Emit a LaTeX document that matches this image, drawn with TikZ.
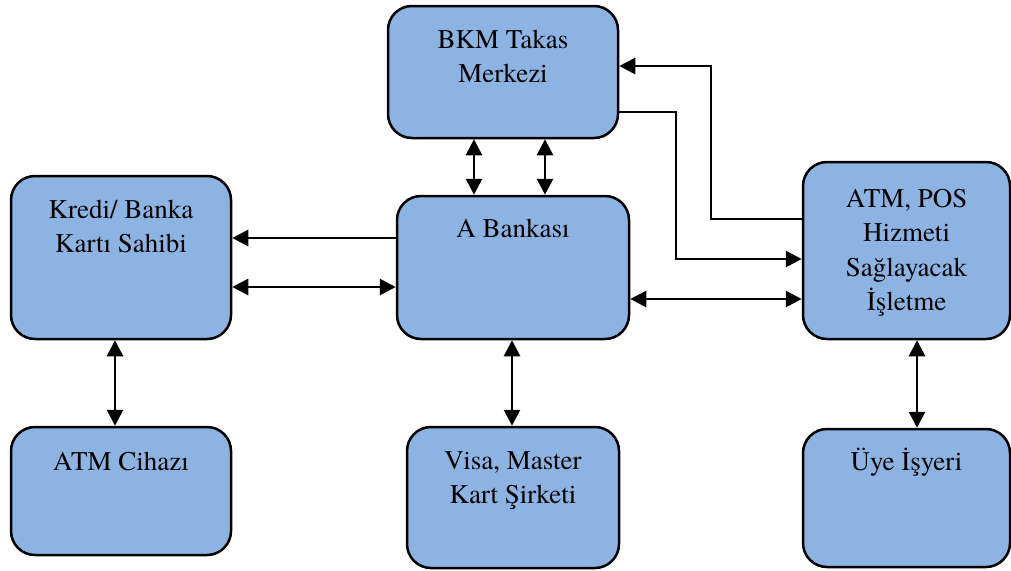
\documentclass[tikz,border=0pt]{standalone}
\usepackage{fontspec}
\setmainfont{texgyretermes-regular.otf}
\usetikzlibrary{arrows.meta}
\definecolor{boxblue}{RGB}{141,179,226}
\begin{document}
\begin{tikzpicture}[x=1pt,y=-1pt,
  box/.style={draw=black, line width=2.5pt, fill=boxblue, rounded corners=24pt, inner sep=0pt},
  lbl/.style={anchor=north, inner sep=0pt, align=center, font=\fontsize{27}{34.5}\selectfont},
  conn/.style={line width=2.8pt, -{Triangle[length=16pt,width=16pt]}},
  dconn/.style={line width=2.8pt, {Triangle[length=16pt,width=16pt]}-{Triangle[length=16pt,width=16pt]}}]
\useasboundingbox (0,0) rectangle (1011,570);
% boxes
\node[box, minimum width=230pt, minimum height=132pt] (bkm) at (503,72) {};
\node[box, minimum width=220pt, minimum height=163pt] (kredi) at (121,257.5) {};
\node[box, minimum width=232pt, minimum height=143pt] (aban) at (513,267.5) {};
\node[box, minimum width=207pt, minimum height=177pt] (atmpos) at (906.5,250.5) {};
\node[box, minimum width=220pt, minimum height=128pt] (atmc) at (121,491) {};
\node[box, minimum width=212pt, minimum height=141pt] (visa) at (513,497.5) {};
\node[box, minimum width=207pt, minimum height=138pt] (uye) at (906.5,498) {};
% labels
\node[lbl] (bkmT) at ([yshift=-21pt]bkm.north) {\vphantom{Ü}BKM Takas\\Merkezi};
\node[lbl] (krediT) at ([yshift=-21pt]kredi.north) {\vphantom{Ü}Kredi/ Banka\\Kartı Sahibi};
\node[lbl] (abanT) at ([yshift=-20pt]aban.north) {\vphantom{Ü}A Bankası};
\node[lbl] (atmposT) at ([yshift=-24pt]atmpos.north) {\vphantom{Ü}ATM, POS\\Hizmeti\\Sağlayacak\\İşletme};
\node[lbl] (atmcT) at ([yshift=-22pt]atmc.north) {\vphantom{Ü}ATM Cihazı};
\node[lbl] (visaT) at ([yshift=-21pt]visa.north) {\vphantom{Ü}Visa, Master\\Kart Şirketi};
\node[lbl] (uyeT) at ([yshift=-20pt]uye.north) {\vphantom{Ü}Üye İşyeri};
% helper coordinates
\coordinate (v1) at (474,0);
\coordinate (v2) at (545,0);
\coordinate (v3) at (115,0);
\coordinate (v4) at (512,0);
\coordinate (v5) at (917,0);
\coordinate (h1) at (0,238);
\coordinate (h2) at (0,287);
\coordinate (h3) at (0,299);
\coordinate (h4) at (0,112);
\coordinate (h5) at (0,259);
\coordinate (h6) at (0,219);
\coordinate (h7) at (0,66);
\coordinate (c1) at (676,112);
\coordinate (c2) at (676,259);
\coordinate (c3) at (711,219);
\coordinate (c4) at (711,66);
% connectors
\draw[dconn] (bkm.south -| v1) -- (aban.north -| v1);
\draw[dconn] (bkm.south -| v2) -- (aban.north -| v2);
\draw[conn] (aban.west |- h1) -- (kredi.east |- h1);
\draw[dconn] (kredi.east |- h2) -- (aban.west |- h2);
\draw[dconn] (aban.east |- h3) -- (atmpos.west |- h3);
\draw[conn] (bkm.east |- h4) -- (c1) -- (c2) -- (atmpos.west |- h5);
\draw[conn] (atmpos.west |- h6) -- (c3) -- (c4) -- (bkm.east |- h7);
\draw[dconn] (kredi.south -| v3) -- (atmc.north -| v3);
\draw[dconn] (aban.south -| v4) -- (visa.north -| v4);
\draw[dconn] (atmpos.south -| v5) -- (uye.north -| v5);
\end{tikzpicture}
\end{document}
